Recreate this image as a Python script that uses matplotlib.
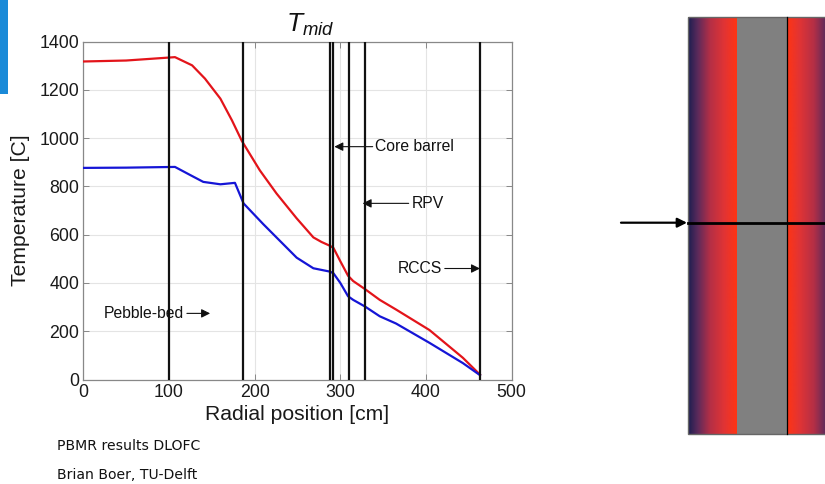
import numpy as np
import matplotlib
matplotlib.use("Agg")
import matplotlib.pyplot as plt
from matplotlib.colors import to_rgb
from matplotlib.patches import Rectangle

plt.rcParams['font.family'] = ['Liberation Sans', 'DejaVu Sans']
plt.rcParams['mathtext.fontset'] = 'custom'
plt.rcParams['mathtext.it'] = 'Liberation Sans:italic'
plt.rcParams['mathtext.rm'] = 'Liberation Sans'

# ---------------- data ----------------
red_x = [0, 50, 107, 127, 142, 160, 173.5, 185, 206, 225.5, 249, 268.5, 278, 288, 292,
         300, 309, 315, 329, 346, 365, 404, 443, 463]
red_y = [1318, 1322, 1336, 1302, 1247, 1164, 1074, 989, 867, 771, 668, 589, 570, 554, 545,
         490, 430, 408, 374, 330, 290, 205, 90, 20]

blue_x = [0, 50, 107, 125, 140, 160, 177, 187, 210, 249, 268.5, 288, 292,
          300, 309, 315, 329, 346, 365, 404, 443, 463]
blue_y = [877, 878, 881, 847, 819, 809, 815, 730, 644, 505, 461, 447, 440,
          400, 345, 330, 302, 262, 232, 152, 68, 18]

boundaries = [100, 186, 288, 292, 310, 328.5, 463]

xticks = [0, 100, 200, 300, 400, 500]
yticks = [0, 200, 400, 600, 800, 1000, 1200, 1400]

labels = ["Core barrel", "RPV", "RCCS", "Pebble-bed"]
label_text_xy = [(341, 965), (383, 730), (367, 460), (24, 274)]
label_arrow_xy = [(293, 965), (326, 730), (463, 460), (148, 274)]

# ---------------- figure ----------------
W, H = 825, 484
fig = plt.figure(figsize=(W / 100, H / 100), dpi=100)
fig.patch.set_facecolor('white')

# overlay axes for decorations (pixel coordinates)
ov = fig.add_axes([0, 0, 1, 1], zorder=0)
ov.set_xlim(0, W)
ov.set_ylim(H, 0)
ov.axis('off')

# blue bar top-left
ov.add_patch(Rectangle((0, 0), 8, 94, facecolor='#1a8ad8', edgecolor='none'))

# right panel gradient
def grad(stops, colors, n=200):
    t = np.linspace(0, 1, n)
    cols = np.array([to_rgb(c) for c in colors])
    arr = np.stack([np.interp(t, stops, cols[:, k]) for k in range(3)], axis=-1)
    return arr[None, :, :]

stops = [0, 0.2, 0.45, 0.75, 1.0]
cols = ['#1b1e50', '#5c2a5b', '#b42f46', '#e23434', '#ff3414']
top, bot = 17, 434
ov.imshow(grad(stops, cols), extent=(688, 737, bot, top), aspect='auto', interpolation='bilinear')
ov.imshow(grad(stops, cols)[:, ::-1, :], extent=(787, 836, bot, top), aspect='auto',
          interpolation='bilinear')
ov.add_patch(Rectangle((737, top), 50, bot - top, facecolor='#808080', edgecolor='none'))
ov.add_patch(Rectangle((688, top), 140, bot - top, facecolor='none', edgecolor='#666666', lw=1.0))
ov.plot([787, 787], [top, bot], color='black', lw=0.9)
ov.plot([688, 825], [222.7, 222.7], color='black', lw=2.0)
ov.annotate('', xy=(687, 222.7), xytext=(621, 222.7),
            arrowprops=dict(arrowstyle='-|>', color='black', lw=1.6, mutation_scale=14,
                            shrinkA=0, shrinkB=0))
ov.set_xlim(0, W)
ov.set_ylim(H, 0)

# footer text
fig.text(57.3 / W, 1 - 446 / H, "PBMR results DLOFC", family='DejaVu Sans', fontsize=10.1,
         ha='left', va='center', color='#111111')
fig.text(57.3 / W, 1 - 475 / H, "Brian Boer, TU-Delft", family='DejaVu Sans', fontsize=10.1,
         ha='left', va='center', color='#111111')

# main axes
ax_l, ax_r, ax_t, ax_b = 83.3, 511.7, 41.7, 379.5
ax = fig.add_axes([ax_l / W, 1 - ax_b / H, (ax_r - ax_l) / W, (ax_b - ax_t) / H], zorder=2)
ax.set_facecolor('white')

ax.plot(red_x, red_y, color='#e3141a', lw=1.6, zorder=3)
ax.plot(blue_x, blue_y, color='#1515d6', lw=1.6, zorder=3)
for b in boundaries:
    ax.axvline(b, color='#111111', lw=1.6, zorder=4)

for txt, (tx, ty), (axx, ayy) in zip(labels, label_text_xy, label_arrow_xy):
    ax.annotate(txt, xy=(axx, ayy), xytext=(tx, ty), ha='left', va='center', fontsize=11.3,
                color='#111111', zorder=5,
                arrowprops=dict(arrowstyle='-|>', color='#111111', lw=0.8, mutation_scale=13,
                                shrinkA=0, shrinkB=0))

ax.set_xlim(0, 500)
ax.set_ylim(0, 1400)
ax.set_xticks(xticks)
ax.set_yticks(yticks)
ax.grid(True, color='#e4e4e4', lw=0.8, zorder=0)
ax.set_axisbelow(True)
ax.tick_params(direction='in', top=True, right=True, length=4, width=0.7, color='#888888',
               labelsize=12.8, labelcolor='#1a1a1a', pad=3)
for s in ax.spines.values():
    s.set_color('#888888')
    s.set_linewidth(0.9)

ax.set_xlabel("Radial position [cm]", fontsize=15.2, color='#1a1a1a')
ax.set_ylabel("Temperature [C]", fontsize=15.2, color='#1a1a1a')
ax.xaxis.set_label_coords(0.5, (ax_b - 414) / (ax_b - ax_t))
ax.xaxis.label.set_verticalalignment('center')
ax.yaxis.set_label_coords((21 - ax_l) / (ax_r - ax_l), 0.5)
ax.yaxis.label.set_verticalalignment('center')

fig.text(310 / W, 1 - 24.5 / H, r'$T_{mid}$', ha='center', va='center', fontsize=19,
         color='#111111')

fig.savefig('out.png', dpi=100, facecolor='white')
